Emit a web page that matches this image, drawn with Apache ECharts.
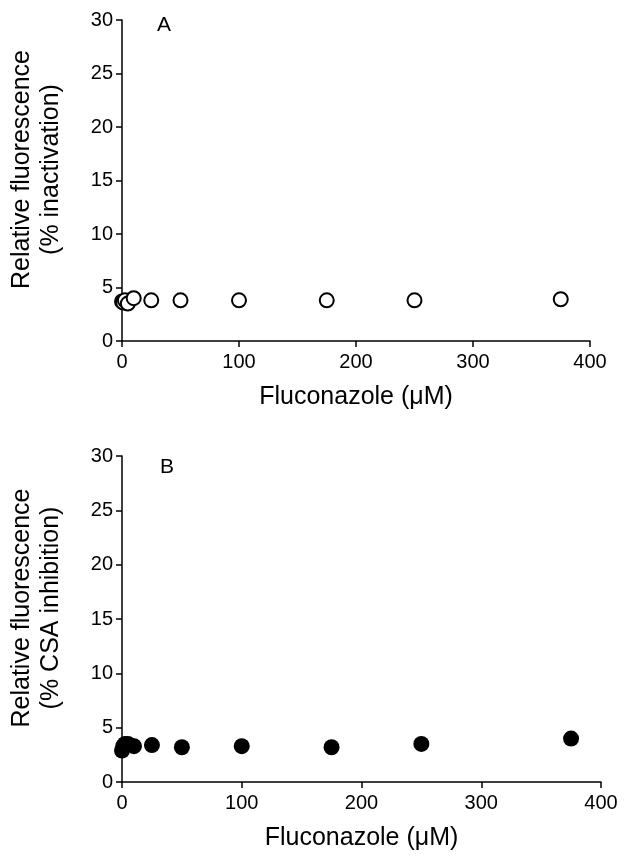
<!DOCTYPE html>
<html><head><meta charset="utf-8">
<script src="https://cdn.jsdelivr.net/npm/echarts@6/dist/echarts.min.js"></script>
<style>html,body{margin:0;padding:0;background:#fff}#c{width:636px;height:857px}</style>
</head><body><div id="c"></div>
<script>
const concentrations = [0, 1, 2.5, 5, 10, 25, 50, 100, 175, 250, 375];
const inactivationA = [3.7, 3.6, 3.8, 3.5, 4.0, 3.8, 3.8, 3.8, 3.8, 3.8, 3.9];
const inhibitionB = [2.9, 3.3, 3.5, 3.5, 3.3, 3.4, 3.2, 3.3, 3.2, 3.5, 4.0];
const xTicks = [0, 100, 200, 300, 400];
const yTicks = [0, 5, 10, 15, 20, 25, 30];

const FONT = 'Liberation Sans, Arial, sans-serif';
const pairs = (xs, ys) => xs.map((x, i) => [x, ys[i]]);

function xAxisCfg(idx) {
  return {
    gridIndex: idx, type: 'value', min: xTicks[0], max: xTicks[xTicks.length - 1],
    interval: xTicks[1] - xTicks[0],
    name: 'Fluconazole (\u03bcM)', nameLocation: 'middle', nameGap: 44,
    nameTextStyle: { fontFamily: FONT, fontSize: 25, color: '#000' },
    axisLine: { show: true, onZero: false, lineStyle: { color: '#000', width: 1.5 } },
    axisTick: { show: true, inside: false, length: 6, lineStyle: { color: '#000', width: 1.5 } },
    axisLabel: { fontFamily: FONT, fontSize: 20, color: '#000', margin: 11 },
    splitLine: { show: false }
  };
}
function yAxisCfg(idx, name) {
  return {
    gridIndex: idx, type: 'value', min: yTicks[0], max: yTicks[yTicks.length - 1],
    interval: yTicks[1] - yTicks[0],
    name: name, nameLocation: 'middle', nameGap: 56, nameRotate: 90,
    nameTextStyle: { fontFamily: FONT, fontSize: 25, color: '#000', lineHeight: 29, align: 'center', padding: [0, 0, 0, 22] },
    axisLine: { show: true, onZero: false, lineStyle: { color: '#000', width: 1.5 } },
    axisTick: { show: true, inside: false, length: 6, lineStyle: { color: '#000', width: 1.5 } },
    axisLabel: { fontFamily: FONT, fontSize: 20, color: '#000', margin: 9 },
    splitLine: { show: false }
  };
}

const chart = echarts.init(document.getElementById('c'), null, { renderer: 'canvas' });
chart.setOption({
  backgroundColor: '#fff',
  animation: false,
  title: [
    { text: 'A', left: 152, top: 10, textStyle: { fontFamily: FONT, fontSize: 21, fontWeight: 'normal', color: '#000' } },
    { text: 'B', left: 155, top: 452, textStyle: { fontFamily: FONT, fontSize: 21, fontWeight: 'normal', color: '#000' } }
  ],
  grid: [
    { left: 120, top: 20, width: 470, height: 321 },
    { left: 122, top: 456, width: 479, height: 326 }
  ],
  xAxis: [xAxisCfg(0), xAxisCfg(1)],
  yAxis: [
    yAxisCfg(0, 'Relative fluorescence\n(% inactivation)'),
    yAxisCfg(1, 'Relative fluorescence\n(% CSA inhibition)')
  ],
  series: [
    {
      type: 'scatter', xAxisIndex: 0, yAxisIndex: 0, data: pairs(concentrations, inactivationA),
      symbol: 'circle', symbolSize: 14,
      itemStyle: { color: '#fff', borderColor: '#000', borderWidth: 2, opacity: 1 }
    },
    {
      type: 'scatter', xAxisIndex: 1, yAxisIndex: 1, data: pairs(concentrations, inhibitionB),
      symbol: 'circle', symbolSize: 16,
      itemStyle: { color: '#000', borderColor: '#000', borderWidth: 0, opacity: 1 }
    }
  ]
});
</script></body></html>
